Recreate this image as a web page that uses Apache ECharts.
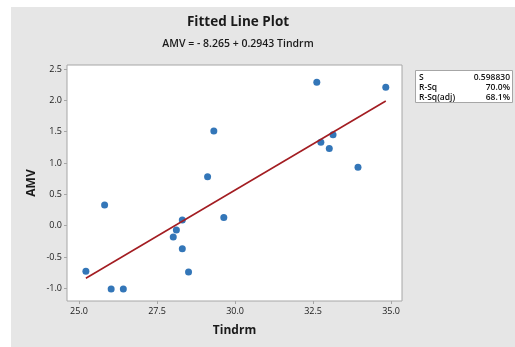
<!DOCTYPE html>
<html>
<head>
<meta charset="utf-8">
<script src="https://cdn.jsdelivr.net/npm/echarts@6/dist/echarts.min.js"></script>
<style>
  html, body { margin: 0; padding: 0; background: #fff; }
  #chart { position: absolute; left: 11px; top: 7px; width: 504px; height: 340px; }
</style>
</head>
<body>
<div id="chart"></div>
<script>
// observations
const tindrm = [25.22, 25.82, 26.03, 26.42, 28.02, 28.12, 28.31, 28.31, 28.51,
  29.12, 29.32, 29.64, 32.62, 32.75, 33.02, 33.14, 33.94, 34.83];
const amv = [-0.73, 0.33, -1.01, -1.01, -0.18, -0.07, 0.09, -0.37, -0.74,
  0.78, 1.51, 0.13, 2.29, 1.33, 1.23, 1.45, 0.93, 2.21];

// fitted line end points
const fitX = [25.22, 34.83];
const fitY = [-0.84, 1.99];

const xTicks = [25, 27.5, 30, 32.5, 35];
const yTicks = [-1, -0.5, 0, 0.5, 1, 1.5, 2, 2.5];

const statLabels = ["S", "R-Sq", "R-Sq(adj)"];
const statValues = ["0.598830", "70.0%", "68.1%"];

const FONT = "'Open Sans', 'Noto Sans', sans-serif";
const chart = echarts.init(document.getElementById("chart"));

const statText = [];
statLabels.forEach((lab, i) => {
  const y = 71 + i * 9.8;
  statText.push({
    type: "text", x: 408, y: y,
    style: { text: lab, font: "600 8.5px " + FONT, fill: "#111", align: "left", verticalAlign: "middle" }
  });
  statText.push({
    type: "text", x: 499, y: y,
    style: { text: statValues[i], font: "600 8.5px " + FONT, fill: "#111", align: "right", verticalAlign: "middle" }
  });
});

chart.setOption({
  backgroundColor: "#e6e6e6",
  animation: false,
  grid: {
    left: 56, top: 58, right: 113, bottom: 46,
    show: true, backgroundColor: "#fff", borderColor: "#a6a6a6", borderWidth: 1
  },
  xAxis: {
    type: "value", min: 24.615, max: 35.35,
    name: "Tindrm", nameLocation: "middle", nameGap: 24,
    nameTextStyle: { fontFamily: FONT, fontSize: 12, fontWeight: "bold", color: "#1a1a1a" },
    axisLine: { show: false, onZero: false },
    axisTick: { show: true, customValues: xTicks, length: 3, lineStyle: { color: "#a6a6a6" } },
    axisLabel: {
      customValues: xTicks, margin: 6, fontFamily: FONT, fontSize: 9, color: "#1a1a1a",
      formatter: v => v.toFixed(1)
    },
    splitLine: { show: false }
  },
  yAxis: {
    type: "value", min: -1.203, max: 2.564,
    name: "AMV", nameLocation: "middle", nameGap: 29, nameMoveOverlap: false,
    nameTextStyle: { fontFamily: FONT, fontSize: 12, fontWeight: "bold", color: "#1a1a1a" },
    axisLine: { show: false, onZero: false },
    axisTick: { show: true, customValues: yTicks, length: 3, lineStyle: { color: "#a6a6a6" } },
    axisLabel: {
      customValues: yTicks, margin: 5, fontFamily: FONT, fontSize: 9, color: "#1a1a1a",
      formatter: v => v.toFixed(1)
    },
    splitLine: { show: false }
  },
  graphic: [
    {
      type: "text", x: 227, y: 15,
      style: { text: "Fitted Line Plot", font: "bold 13.5px " + FONT, fill: "#1a1a1a", align: "center", verticalAlign: "middle" }
    },
    {
      type: "text", x: 227, y: 37,
      style: { text: "AMV = - 8.265 + 0.2943 Tindrm", font: "600 10.5px " + FONT, fill: "#1a1a1a", align: "center", verticalAlign: "middle" }
    },
    {
      type: "rect", shape: { x: 404.5, y: 63.5, width: 97, height: 32 },
      style: { fill: "#fff", stroke: "#a6a6a6", lineWidth: 1 }
    },
    ...statText
  ],
  series: [
    {
      type: "line",
      data: fitX.map((x, i) => [x, fitY[i]]),
      showSymbol: false,
      lineStyle: { color: "#a31d22", width: 1.6 },
      silent: true
    },
    {
      type: "scatter",
      data: tindrm.map((x, i) => [x, amv[i]]),
      symbolSize: 7,
      itemStyle: { color: "#0054a6" }
    }
  ]
});
</script>
</body>
</html>
